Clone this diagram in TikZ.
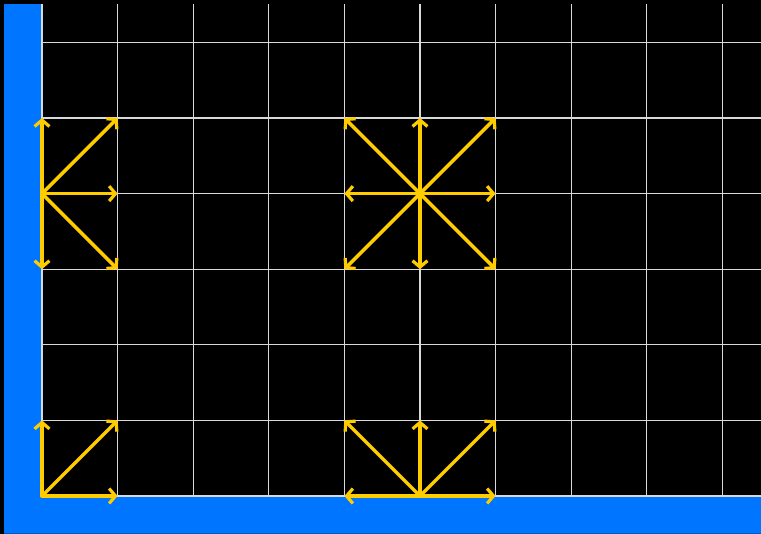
\documentclass[tikz,border=0pt]{standalone}
\usepackage{tikz}
\usetikzlibrary{arrows.meta, calc}

\definecolor{wallblue}{RGB}{0,117,255}
\definecolor{vecyellow}{RGB}{255,204,0}

\begin{document}
\begin{tikzpicture}[
    x=1cm, y=1cm,
    gridline/.style={draw=white!85!black, line width=0.4pt},
    vec/.style={draw=vecyellow, line width=1.3pt, line cap=round,
        -{Straight Barb[length=2.4pt, width=5.6pt, line width=1.2pt]}},
    wall/.style={fill=wallblue}
]

% Background and walls
\fill[black] (-0.5556,-0.5026) rectangle (9.5106,6.5608);
\useasboundingbox (-0.5556,-0.5026) rectangle (9.5106,6.5608);
\fill[wall] (-0.5026,-0.5026) rectangle (0,6.508);
\fill[wall] (-0.5026,-0.5026) rectangle (9.5106,0);
\draw[wallblue!75!black, line width=0.4pt] (-0.5026,-0.49) -- (9.5106,-0.49);

% Grid
\foreach \i in {0,...,9}
    \draw[gridline] (\i,0) -- (\i,6.508);
\foreach \j in {0,...,6}
    \draw[gridline] (0,\j) -- (9.5106,\j);

% Cell origins
\coordinate (edge) at (0,4);
\coordinate (free) at (5,4);
\coordinate (corner) at (0,0);
\coordinate (floor) at (5,0);

% Moves from each cell
\foreach \dx/\dy in {0/1, 1/1, 1/0, 1/-1, 0/-1}
    \draw[vec] (edge) -- ++(\dx,\dy);
\foreach \dx/\dy in {0/1, 1/1, 1/0, 1/-1, 0/-1, -1/-1, -1/0, -1/1}
    \draw[vec] (free) -- ++(\dx,\dy);
\foreach \dx/\dy in {0/1, 1/1, 1/0}
    \draw[vec] (corner) -- ++(\dx,\dy);
\foreach \dx/\dy in {-1/0, -1/1, 0/1, 1/1, 1/0}
    \draw[vec] (floor) -- ++(\dx,\dy);

\end{tikzpicture}
\end{document}
